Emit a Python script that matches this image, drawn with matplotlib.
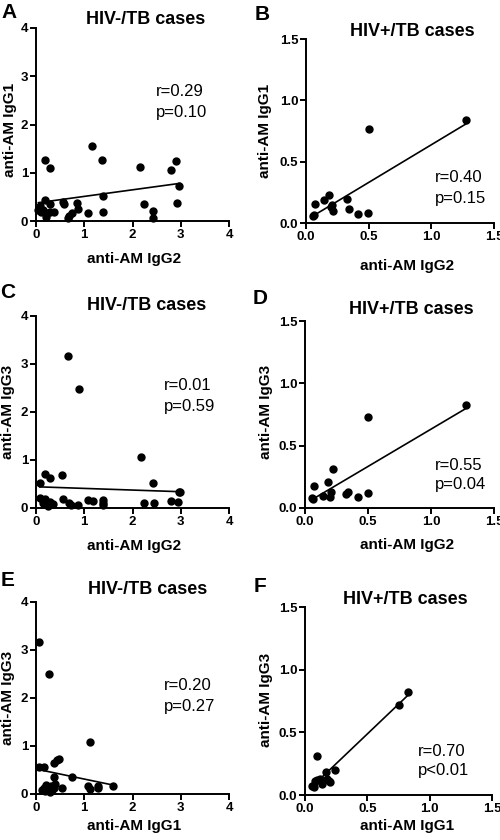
import matplotlib
matplotlib.use('Agg')
import matplotlib.pyplot as plt

plt.rcParams['font.family'] = ['Liberation Sans', 'DejaVu Sans']

W, H = 500, 840

# panel A: HIV-/TB, IgG2 vs IgG1
a_x = [0.19, 0.29, 1.17, 1.37, 2.16, 2.79, 2.91, 2.97, 2.93, 2.23, 2.43, 2.42, 1.38, 1.38,
       1.07, 0.86, 0.88, 0.74, 0.69, 0.67, 0.55, 0.57, 0.29, 0.19, 0.21, 0.37, 0.29, 0.08,
       0.05, 0.15, 0.10, 0.22]
a_y = [1.26, 1.09, 1.56, 1.26, 1.11, 1.06, 1.25, 0.73, 0.38, 0.35, 0.21, 0.06, 0.52, 0.18,
       0.17, 0.37, 0.25, 0.16, 0.10, 0.06, 0.40, 0.35, 0.35, 0.43, 0.08, 0.19, 0.19, 0.31,
       0.23, 0.23, 0.19, 0.17]
a_fit_x = [0.05, 2.98]
a_fit_y = [0.38, 0.78]

# panel B: HIV+/TB, IgG2 vs IgG1
b_x = [1.28, 0.50, 0.07, 0.145, 0.18, 0.055, 0.063, 0.208, 0.219, 0.328, 0.344, 0.418, 0.497, 0.20]
b_y = [0.84, 0.77, 0.158, 0.186, 0.232, 0.057, 0.068, 0.145, 0.098, 0.197, 0.112, 0.074, 0.085, 0.13]
b_fit_x = [0.06, 1.28]
b_fit_y = [0.06, 0.81]

# panel C: HIV-/TB, IgG2 vs IgG3
c_x = [0.67, 0.89, 2.17, 2.42, 2.96, 2.99, 0.08, 0.18, 0.28, 0.53, 0.08, 0.18, 0.15, 0.21,
       0.28, 0.35, 0.25, 0.56, 0.69, 0.73, 0.87, 1.08, 1.18, 1.38, 1.38, 1.38, 2.24, 2.44,
       2.80, 2.94]
c_y = [3.17, 2.48, 1.07, 0.53, 0.33, 0.34, 0.53, 0.70, 0.63, 0.69, 0.20, 0.19, 0.10, 0.08,
       0.12, 0.08, 0.05, 0.18, 0.10, 0.07, 0.07, 0.17, 0.15, 0.17, 0.10, 0.06, 0.10, 0.10,
       0.15, 0.12]
c_fit_x = [0.08, 2.98]
c_fit_y = [0.44, 0.34]

# panel D: HIV+/TB, IgG2 vs IgG3
d_x = [1.28, 0.50, 0.219, 0.07, 0.18, 0.055, 0.063, 0.145, 0.20, 0.208, 0.328, 0.344, 0.418, 0.497]
d_y = [0.83, 0.73, 0.315, 0.177, 0.207, 0.078, 0.07, 0.10, 0.09, 0.13, 0.11, 0.126, 0.09, 0.118]
d_fit_x = [0.06, 1.28]
d_fit_y = [0.07, 0.80]

# panel E: HIV-/TB, IgG1 vs IgG3
e_x = [0.07, 0.26, 1.12, 0.38, 0.43, 0.47, 0.07, 0.17, 0.38, 0.74, 1.59, 1.28, 1.28, 1.07,
       1.11, 0.53, 0.12, 0.17, 0.21, 0.26, 0.31, 0.33, 0.38, 0.28, 0.19, 0.40]
e_y = [3.17, 2.50, 1.08, 0.65, 0.71, 0.72, 0.56, 0.56, 0.36, 0.35, 0.17, 0.17, 0.13, 0.17,
       0.11, 0.13, 0.08, 0.13, 0.19, 0.10, 0.17, 0.08, 0.13, 0.05, 0.06, 0.20]
e_fit_x = [0.05, 1.58]
e_fit_y = [0.51, 0.19]

# panel F: HIV+/TB, IgG1 vs IgG3
f_x = [0.83, 0.755, 0.10, 0.24, 0.165, 0.06, 0.08, 0.10, 0.12, 0.14, 0.175, 0.19, 0.20, 0.07]
f_y = [0.82, 0.72, 0.31, 0.20, 0.18, 0.07, 0.11, 0.12, 0.13, 0.09, 0.13, 0.11, 0.10, 0.06]
f_fit_x = [0.06, 0.83]
f_fit_y = [0.07, 0.80]

panels = [
    # letter, title, xlabel, ylabel, x, y, fit_x, fit_y, stats, box(l,t,r,b px), big scale
    ('A', 'HIV-/TB cases', 'anti-AM IgG2', 'anti-AM IgG1', a_x, a_y, a_fit_x, a_fit_y,
     ('r=0.29', 'p=0.10'), (36, 28, 229, 221), True),
    ('B', 'HIV+/TB cases', 'anti-AM IgG2', 'anti-AM IgG1', b_x, b_y, b_fit_x, b_fit_y,
     ('r=0.40', 'p=0.15'), (306, 39, 494, 223), False),
    ('C', 'HIV-/TB cases', 'anti-AM IgG2', 'anti-AM IgG3', c_x, c_y, c_fit_x, c_fit_y,
     ('r=0.01', 'p=0.59'), (36, 316, 229, 508), True),
    ('D', 'HIV+/TB cases', 'anti-AM IgG2', 'anti-AM IgG3', d_x, d_y, d_fit_x, d_fit_y,
     ('r=0.55', 'p=0.04'), (305, 321, 494, 508), False),
    ('E', 'HIV-/TB cases', 'anti-AM IgG1', 'anti-AM IgG3', e_x, e_y, e_fit_x, e_fit_y,
     ('r=0.20', 'p=0.27'), (36, 602, 229, 794), True),
    ('F', 'HIV+/TB cases', 'anti-AM IgG1', 'anti-AM IgG3', f_x, f_y, f_fit_x, f_fit_y,
     ('r=0.70', 'p<0.01'), (305, 607, 492, 795), False),
]

# text placement in figure pixels: letter, title, xlabel, ylabel, stats (left x, r-line y)
letter_pos = [(9, 13), (262, 14), (8, 292), (260, 298), (8, 581), (260, 587)]
title_pos = [(146, 20), (412, 32), (147, 305), (411, 310), (148, 590), (405, 600)]
xlab_pos = [(134, 259), (407, 266), (134, 546), (407, 545), (134, 826), (407, 826)]
ylab_pos = [(10, 130), (265, 131), (8, 412), (266, 412), (8, 698), (266, 700)]
stat_pos = [(156, 92), (435, 178), (164, 386), (435, 465), (164, 686), (418, 751)]


def fx(x):
    return x / W


def fy(y):
    return 1 - y / H


fig = plt.figure(figsize=(5, 8.4), dpi=100)

for i, (letter, title, xl, yl, x, y, fit_x, fit_y, stats, box, big) in enumerate(panels):
    l, t, r, b = box
    ax = fig.add_axes([fx(l), fy(b), (r - l) / W, (b - t) / H])
    ax.plot(x, y, 'o', color='black', ms=5, clip_on=False, zorder=3)
    ax.plot(fit_x, fit_y, '-', color='black', lw=1.2, zorder=2)
    if big:
        ax.set_xlim(0, 4)
        ax.set_ylim(0, 4)
        ax.set_xticks([0, 1, 2, 3, 4])
        ax.set_yticks([0, 1, 2, 3, 4])
    else:
        ax.set_xlim(0, 1.5)
        ax.set_ylim(0, 1.5)
        ticks = [0, 0.5, 1.0, 1.5]
        ax.set_xticks(ticks)
        ax.set_yticks(ticks)
        ax.set_xticklabels(['%.1f' % v for v in ticks])
        ax.set_yticklabels(['%.1f' % v for v in ticks])
    for s in ['top', 'right']:
        ax.spines[s].set_visible(False)
    for s in ['left', 'bottom']:
        ax.spines[s].set_linewidth(1.4)
    ax.tick_params(direction='out', length=4, width=1.4, labelsize=9.5, pad=1.5)
    for lab in ax.get_xticklabels() + ax.get_yticklabels():
        lab.set_fontweight('bold')

    ax.set_xlabel(xl, fontsize=11, fontweight='bold', va='center')
    ax.xaxis.set_label_coords(fx(xlab_pos[i][0]), fy(xlab_pos[i][1]), transform=fig.transFigure)
    ax.set_ylabel(yl, fontsize=11, fontweight='bold', va='center')
    ax.yaxis.set_label_coords(fx(ylab_pos[i][0]), fy(ylab_pos[i][1]), transform=fig.transFigure)

    fig.text(fx(letter_pos[i][0]), fy(letter_pos[i][1]), letter, fontsize=15,
             fontweight='bold', ha='center', va='center')
    fig.text(fx(title_pos[i][0]), fy(title_pos[i][1]), title, fontsize=13,
             fontweight='bold', ha='center', va='center')
    sx, sy = stat_pos[i]
    fig.text(fx(sx), fy(sy), stats[0], fontsize=12, ha='left', va='center')
    fig.text(fx(sx), fy(sy + 20), stats[1], fontsize=12, ha='left', va='center')

fig.savefig('out.png', dpi=100)
